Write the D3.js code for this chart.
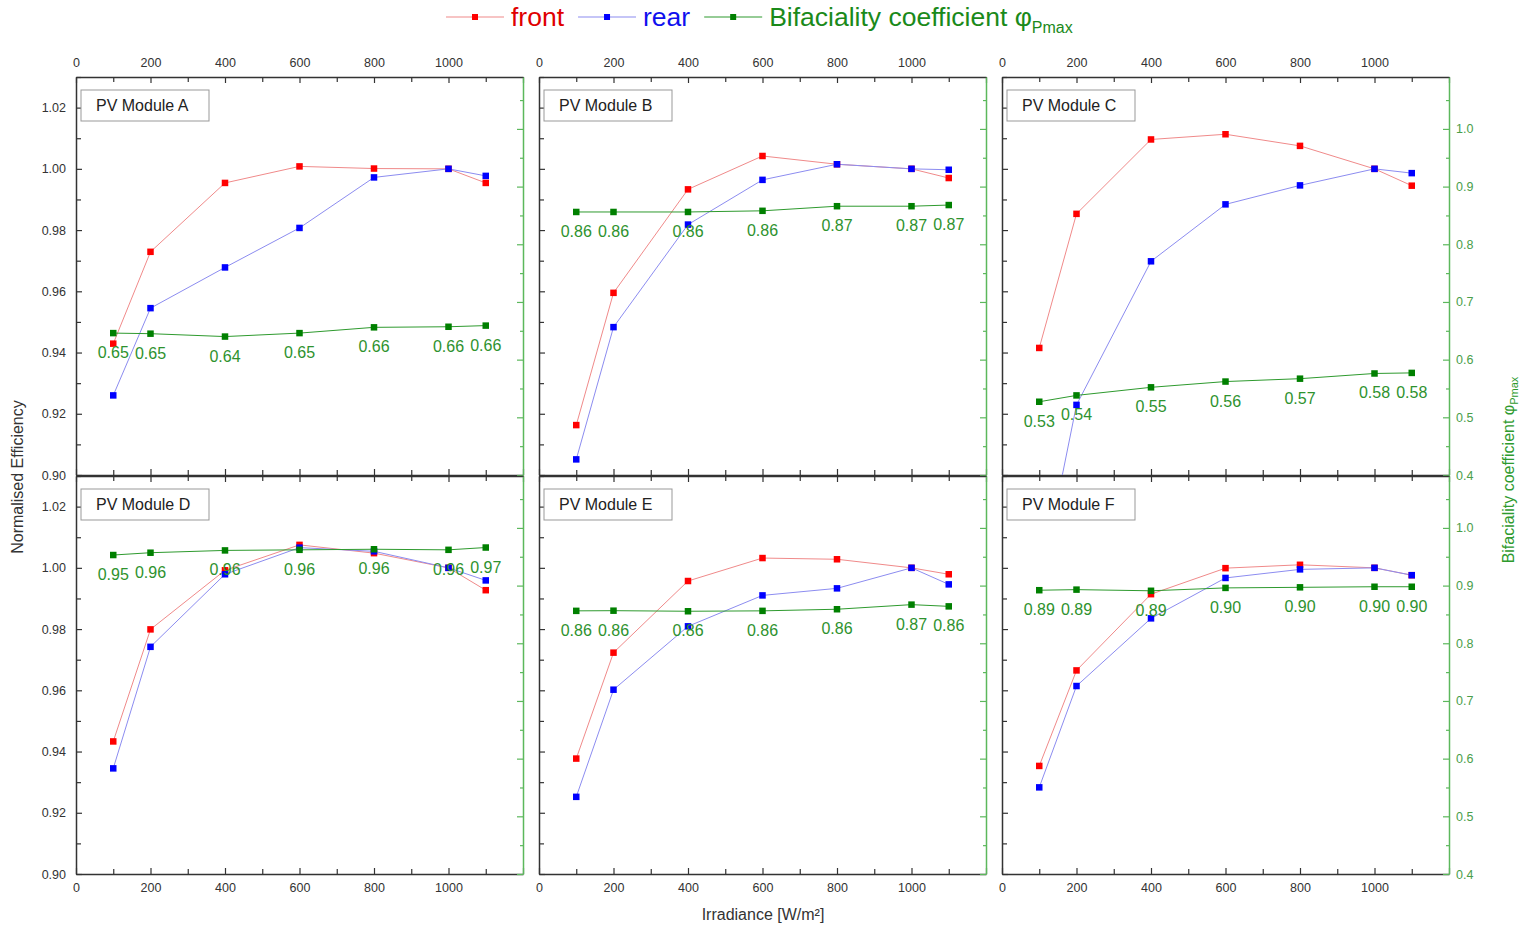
<!DOCTYPE html>
<html lang="en">
<head>
<meta charset="UTF-8">
<title>Normalised efficiency vs irradiance</title>
<script src="https://d3js.org/d3.v7.min.js"></script>
<style>
body{margin:0;background:#fff;}
svg{display:block;font-family:"Liberation Sans",Arial,sans-serif;}
.tick text{fill:#333;font-size:12.5px;}
.ax .domain{stroke:#333;stroke-width:1.5;}
.ax .tick line{stroke:#333;stroke-width:1.2;}
.axg .domain{stroke:#5cb85c;stroke-width:1.5;}
.axg .tick line{stroke:#5cb85c;stroke-width:1.2;}
.axg .tick text{fill:#4a9e4a;}
</style>
</head>
<body>
<svg width="1523" height="926"></svg>
<script>
// irradiance steps [W/m2]
const irradiance = [100, 200, 400, 600, 800, 1000, 1100];
const moduleNames = ["PV Module A", "PV Module B", "PV Module C", "PV Module D", "PV Module E", "PV Module F"];

// normalised efficiency, front side
const frontA = [0.9429, 0.9729, 0.9954, 1.0008, 1.0001, 1.0000, 0.9954];
const frontB = [0.9163, 0.9595, 0.9933, 1.0042, 1.0015, 1.0000, 0.9970];
const frontC = [0.9415, 0.9853, 1.0096, 1.0113, 1.0075, 1.0000, 0.9945];
const frontD = [0.9433, 0.9799, 0.9992, 1.0075, 1.0048, 1.0000, 0.9927];
const frontE = [0.9377, 0.9723, 0.9957, 1.0032, 1.0028, 1.0000, 0.9979];
const frontF = [0.9353, 0.9665, 0.9914, 0.9999, 1.0010, 1.0000, 0.9976];

// normalised efficiency, rear side
const rearA = [0.9260, 0.9545, 0.9678, 0.9807, 0.9972, 1.0000, 0.9977];
const rearB = [0.9051, 0.9483, 0.9818, 0.9964, 1.0015, 1.0000, 0.9997];
const rearC = [0.8626, 0.9229, 0.9698, 0.9884, 0.9946, 1.0000, 0.9986];
const rearD = [0.9345, 0.9742, 0.9979, 1.0066, 1.0054, 1.0000, 0.9959];
const rearE = [0.9252, 0.9602, 0.9809, 0.9910, 0.9933, 1.0000, 0.9946];
const rearF = [0.9283, 0.9614, 0.9835, 0.9967, 0.9995, 1.0000, 0.9976];

// bifaciality coefficient phi_Pmax (right axis)
const bifA = [0.646, 0.645, 0.640, 0.646, 0.656, 0.657, 0.659];
const bifB = [0.856, 0.856, 0.856, 0.858, 0.866, 0.866, 0.868];
const bifC = [0.527, 0.538, 0.552, 0.562, 0.567, 0.576, 0.577];
const bifD = [0.953, 0.957, 0.961, 0.962, 0.963, 0.962, 0.966];
const bifE = [0.8562, 0.8565, 0.8555, 0.8562, 0.859, 0.867, 0.864];
const bifF = [0.892, 0.893, 0.891, 0.896, 0.897, 0.898, 0.898];

const effTicks = [0.90, 0.92, 0.94, 0.96, 0.98, 1.00, 1.02];
const effMinor = [0.91, 0.93, 0.95, 0.97, 0.99, 1.01, 1.03];
const bifTicks = [0.4, 0.5, 0.6, 0.7, 0.8, 0.9, 1.0];
const bifMinor = [0.45, 0.55, 0.65, 0.75, 0.85, 0.95, 1.05];
const irrTicks = [0, 200, 400, 600, 800, 1000, 1200];
const irrMinor = [100, 300, 500, 700, 900, 1100];

const fronts = [frontA, frontB, frontC, frontD, frontE, frontF];
const rears = [rearA, rearB, rearC, rearD, rearE, rearF];
const bifs = [bifA, bifB, bifC, bifD, bifE, bifF];

const colRed = "#ff0000", colBlue = "#0000ff", colGreen = "#008000";

var svg = d3.select("svg");
svg.append("rect").attr("width", 1523).attr("height", 926).attr("fill", "#fff");

const colX = [76, 539, 1002], rowY = [77, 476];
const pw = 447, ph = 398;

var x = d3.scaleLinear().domain([0, 1200]).range([0, pw]);
var yL = d3.scaleLinear().domain([0.90, 1.03]).range([ph, 0]);
var yR = d3.scaleLinear().domain([0.4, 1.09]).range([ph, 0]);

var lineL = d3.line().x(d => x(d[0])).y(d => yL(d[1]));
var lineR = d3.line().x(d => x(d[0])).y(d => yR(d[1]));

moduleNames.forEach((name, i) => {
  const col = i % 3, row = Math.floor(i / 3);
  const g = svg.append("g").attr("transform", `translate(${colX[col]},${rowY[row]})`);

  g.append("clipPath").attr("id", "clip" + i)
    .append("rect").attr("width", pw).attr("height", ph);

  // axes - minor ticks first
  g.append("g").attr("class", "ax").call(d3.axisTop(x).tickValues(irrMinor).tickSize(-5).tickFormat(""))
    .select(".domain").remove();
  g.append("g").attr("class", "ax").attr("transform", `translate(0,${ph})`)
    .call(d3.axisBottom(x).tickValues(irrMinor).tickSize(-5).tickFormat(""))
    .select(".domain").remove();
  g.append("g").attr("class", "ax").call(d3.axisLeft(yL).tickValues(effMinor).tickSize(-5).tickFormat(""))
    .select(".domain").remove();
  g.append("g").attr("class", "axg").attr("transform", `translate(${pw},0)`)
    .call(d3.axisRight(yR).tickValues(bifMinor).tickSize(-3).tickFormat(""))
    .select(".domain").remove();

  g.append("g").attr("class", "ax")
    .call(d3.axisTop(x).tickValues(irrTicks).tickSize(-6).tickSizeOuter(0).tickPadding(10)
      .tickFormat(d => (row === 0 && d < 1200) ? d : ""));
  g.append("g").attr("class", "ax").attr("transform", `translate(0,${ph})`)
    .call(d3.axisBottom(x).tickValues(irrTicks).tickSize(-6).tickSizeOuter(0).tickPadding(9)
      .tickFormat(d => (row === 1 && d < 1200) ? d : ""));
  g.append("g").attr("class", "ax")
    .call(d3.axisLeft(yL).tickValues(effTicks).tickSize(-6).tickSizeOuter(0).tickPadding(10)
      .tickFormat(d => col === 0 ? d3.format(".2f")(d) : ""));
  g.append("g").attr("class", "axg").attr("transform", `translate(${pw},0)`)
    .call(d3.axisRight(yR).tickValues(bifTicks).tickSize(-6).tickSizeOuter(0).tickPadding(7)
      .tickFormat(d => col === 2 ? d3.format(".1f")(d) : ""));

  const plot = g.append("g").attr("clip-path", `url(#clip${i})`);
  const fr = d3.zip(irradiance, fronts[i]);
  const re = d3.zip(irradiance, rears[i]);
  const bf = d3.zip(irradiance, bifs[i]);

  plot.append("path").attr("d", lineL(fr)).attr("fill", "none").attr("stroke", "#f08a8a").attr("stroke-width", 1);
  plot.append("path").attr("d", lineL(re)).attr("fill", "none").attr("stroke", "#8c8cf0").attr("stroke-width", 1);
  plot.append("path").attr("d", lineR(bf)).attr("fill", "none").attr("stroke", "#2e9a2e").attr("stroke-width", 1);

  const ms = 6.5;
  plot.selectAll(".mf").data(fr).join("rect").attr("class", "mf")
    .attr("x", d => x(d[0]) - ms / 2).attr("y", d => yL(d[1]) - ms / 2)
    .attr("width", ms).attr("height", ms).attr("fill", colRed);
  plot.selectAll(".mr").data(re).join("rect").attr("class", "mr")
    .attr("x", d => x(d[0]) - ms / 2).attr("y", d => yL(d[1]) - ms / 2)
    .attr("width", ms).attr("height", ms).attr("fill", colBlue);
  plot.selectAll(".mb").data(bf).join("rect").attr("class", "mb")
    .attr("x", d => x(d[0]) - ms / 2).attr("y", d => yR(d[1]) - ms / 2)
    .attr("width", ms).attr("height", ms).attr("fill", colGreen);

  // value labels of bifaciality
  g.selectAll(".lb").data(bf).join("text").attr("class", "lb")
    .attr("x", d => x(d[0])).attr("y", d => yR(d[1]) + 25)
    .attr("text-anchor", "middle").attr("font-size", 16).attr("fill", "#2e922e")
    .text(d => d3.format(".2f")(d[1]));

  // module label box
  g.append("rect").attr("x", 5).attr("y", 13).attr("width", 128).attr("height", 31)
    .attr("fill", "#fff").attr("stroke", "#999").attr("stroke-width", 1);
  g.append("text").attr("x", 20).attr("y", 34).attr("font-size", 16).attr("fill", "#222").text(name);
});

// axis titles
svg.append("text").attr("transform", "translate(23,477) rotate(-90)").attr("text-anchor", "middle")
  .attr("font-size", 16).attr("fill", "#333").text("Normalised Efficiency");
svg.append("text").attr("x", 763).attr("y", 920).attr("text-anchor", "middle")
  .attr("font-size", 16).attr("fill", "#333").text("Irradiance [W/m²]");
var rt = svg.append("text").attr("transform", "translate(1514,470) rotate(-90)").attr("text-anchor", "middle")
  .attr("font-size", 16).attr("fill", "#2e9a2e");
rt.append("tspan").text("Bifaciality coefficient φ");
rt.append("tspan").attr("font-size", 11).attr("dy", 4).text("Pmax");

// legend
const legendItems = [
  {label: "front", line: "#f08a8a", mark: colRed, text: "#e00000"},
  {label: "rear", line: "#8c8cf0", mark: colBlue, text: "#1010ee"},
  {label: "Bifaciality coefficient φ", sub: "Pmax", line: "#2e9a2e", mark: colGreen, text: "#1a8a1a"}
];
var lx = 446;
legendItems.forEach(it => {
  const lg = svg.append("g");
  lg.append("line").attr("x1", lx).attr("x2", lx + 58).attr("y1", 17).attr("y2", 17)
    .attr("stroke", it.line).attr("stroke-width", 1.2);
  lg.append("rect").attr("x", lx + 26).attr("y", 14).attr("width", 6).attr("height", 6).attr("fill", it.mark);
  const t = lg.append("text").attr("x", lx + 65).attr("y", 26).attr("font-size", 26.5).attr("fill", it.text);
  t.append("tspan").text(it.label);
  if (it.sub) t.append("tspan").attr("font-size", 16).attr("dy", 7).text(it.sub);
  lx += 65 + t.node().getComputedTextLength() + 14;
});
</script>
</body>
</html>
